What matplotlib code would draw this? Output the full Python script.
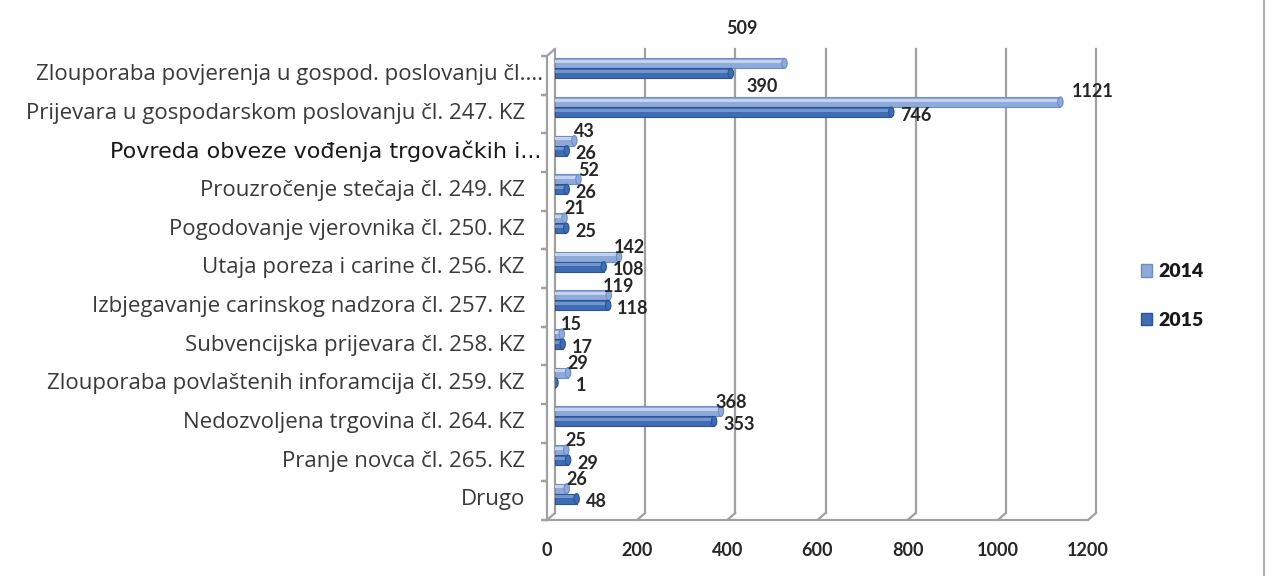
import matplotlib
matplotlib.use("Agg")
import matplotlib.pyplot as plt
from matplotlib.transforms import ScaledTranslation
from matplotlib.patches import Patch, Ellipse
from matplotlib.font_manager import FontProperties

categories = [
    "Zlouporaba povjerenja u gospod. poslovanju čl....",
    "Prijevara u gospodarskom poslovanju čl. 247. KZ",
    "Povreda obveze vođenja trgovačkih i...",
    "Prouzročenje stečaja čl. 249. KZ",
    "Pogodovanje vjerovnika čl. 250. KZ",
    "Utaja poreza i carine čl. 256. KZ",
    "Izbjegavanje carinskog nadzora čl. 257. KZ",
    "Subvencijska prijevara čl. 258. KZ",
    "Zlouporaba povlaštenih inforamcija čl. 259. KZ",
    "Nedozvoljena trgovina čl. 264. KZ",
    "Pranje novca čl. 265. KZ",
    "Drugo",
]
values_2014 = [509, 1121, 43, 52, 21, 142, 119, 15, 29, 368, 25, 26]
values_2015 = [390, 746, 26, 26, 25, 108, 118, 17, 1, 353, 29, 48]
series_names = ["2014", "2015"]
xticks = [0, 200, 400, 600, 800, 1000, 1200]

W, H, DPI = 1267, 576, 100
fig = plt.figure(figsize=(W / DPI, H / DPI), dpi=DPI)
fig.patch.set_facecolor("white")

# back wall of the pseudo-3D plot
x0, x1, ytop, ybot = 555, 1096, 49, 513
ax = fig.add_axes([x0 / W, 1 - ybot / H, (x1 - x0) / W, (ybot - ytop) / H])
ax.set_xlim(0, 1200)
n = len(categories)
ax.set_ylim(n - 0.5, -0.5)
for s in ax.spines.values():
    s.set_visible(False)
ax.set_xticks([])
ax.set_yticks([])
ax.patch.set_alpha(0)

def px_off(dx, dy):
    return ScaledTranslation(dx / DPI, -dy / DPI, fig.dpi_scale_trans)

DX, DY = -8, 7  # depth offset (pixels, right / down)
grid_c = "#A0A0A0"
for v in xticks:
    ax.plot([v, v], [-0.5, n - 0.5], color=grid_c, lw=1.6, zorder=1, clip_on=False)
    ax.annotate("", xy=(v, n - 0.5), xytext=(DX * 0.72, -DY * 0.72),
                textcoords="offset points",
                arrowprops=dict(arrowstyle="-", color=grid_c, lw=1.6, shrinkA=0, shrinkB=0))
# front floor edge
ax.plot([0, 1200], [n - 0.5, n - 0.5], color=grid_c, lw=1.6, clip_on=False,
        transform=ax.transData + px_off(DX, DY), zorder=1)
# front left edge
ax.plot([0, 0], [-0.5, n - 0.5], color=grid_c, lw=1.6, clip_on=False,
        transform=ax.transData + px_off(DX, DY), zorder=1)
ax.annotate("", xy=(0, -0.5), xytext=(DX * 0.72, -DY * 0.72), textcoords="offset points",
            arrowprops=dict(arrowstyle="-", color=grid_c, lw=1.6, shrinkA=0, shrinkB=0))
# category tick marks
for b in range(n + 1):
    ax.plot([0, 0], [b - 0.5, b - 0.5], marker=[(0, 0), (-1, 0)], markersize=8,
            color=grid_c, mew=1.6, transform=ax.transData + px_off(DX, DY), clip_on=False)

# bars
h = 0.26
c14, c14e, c14h = "#8EAADB", "#6F8CC4", "#C3D3EE"
c15, c15e, c15h = "#3E6DB3", "#2C5494", "#7EA0D6"
ypos = list(range(n))
ax.barh([y - h / 2 for y in ypos], values_2014, height=h, color=c14, edgecolor=c14e,
        lw=0.8, zorder=3)
ax.barh([y - h / 2 - h * 0.18 for y in ypos], values_2014, height=h * 0.3, color=c14h,
        lw=0, zorder=4)
ax.barh([y + h / 2 for y in ypos], values_2015, height=h, color=c15, edgecolor=c15e,
        lw=0.8, zorder=3)
ax.barh([y + h / 2 - h * 0.18 for y in ypos], values_2015, height=h * 0.3, color=c15h,
        lw=0, zorder=4, alpha=0.8)
capw = 12
for y, v in zip(ypos, values_2014):
    ax.add_patch(Ellipse((v, y - h / 2), capw, h, facecolor=c14, edgecolor=c14e, lw=0.8, zorder=5))
for y, v in zip(ypos, values_2015):
    ax.add_patch(Ellipse((v, y + h / 2), capw, h, facecolor=c15, edgecolor=c15e, lw=0.8, zorder=5))

# value labels (pixel offsets: 2014 centered above-right, 2015 left-aligned right)
vfont = dict(family="Lato", weight="bold", size=13, color="#262626")
off14 = {0: (-43, -35), 1: (32, -10)}
off15 = {0: (16, 13), 8: (20, 3)}
for i, (y, v) in enumerate(zip(ypos, values_2014)):
    dx, dy = off14.get(i, (10, -9))
    ax.annotate(str(v), xy=(v, y - h / 2), xytext=(dx * 0.72, -dy * 0.72),
                textcoords="offset points", ha="center", va="center", zorder=6, **vfont)
for i, (y, v) in enumerate(zip(ypos, values_2015)):
    dx, dy = off15.get(i, (9, 3))
    ax.annotate(str(v), xy=(v, y + h / 2), xytext=(dx * 0.72, -dy * 0.72),
                textcoords="offset points", ha="left", va="center", zorder=6, **vfont)

# category labels
for i, (y, lab) in enumerate(zip(ypos, categories)):
    if i == 2:
        ax.text(0, y, lab, transform=ax.transData + px_off(-14, 6), ha="right", va="center",
                family="DejaVu Sans", size=16, color="#1a1a1a")
    else:
        right = -12 if i == 0 else -30
        ax.text(0, y, lab, transform=ax.transData + px_off(right, 6), ha="right", va="center",
                family="Open Sans", size=16, color="#3a3a3a")

# x tick labels at the front plane
for v in xticks:
    ax.text(v, n - 0.5, str(v), transform=ax.transData + px_off(DX, DY + 30), ha="center",
            va="center", family="Lato", weight="bold", size=13, color="#262626")

# legend
handles = [Patch(facecolor=c14, edgecolor=c14e), Patch(facecolor=c15, edgecolor=c15e)]
leg = fig.legend(handles, series_names, loc="center left",
                 bbox_to_anchor=(1123 / W, 1 - 296 / H), frameon=False,
                 prop=FontProperties(family="Lato", weight="heavy", size=14),
                 handlelength=0.6, handleheight=0.6, handletextpad=0.3, labelspacing=1.6)
for t in leg.get_texts():
    t.set_color("#1a1a1a")

# right border
fig.add_artist(plt.Line2D([1264 / W, 1264 / W], [0, 1], color="#B0B0B0", lw=1.5))

fig.savefig("out.png", dpi=DPI)
